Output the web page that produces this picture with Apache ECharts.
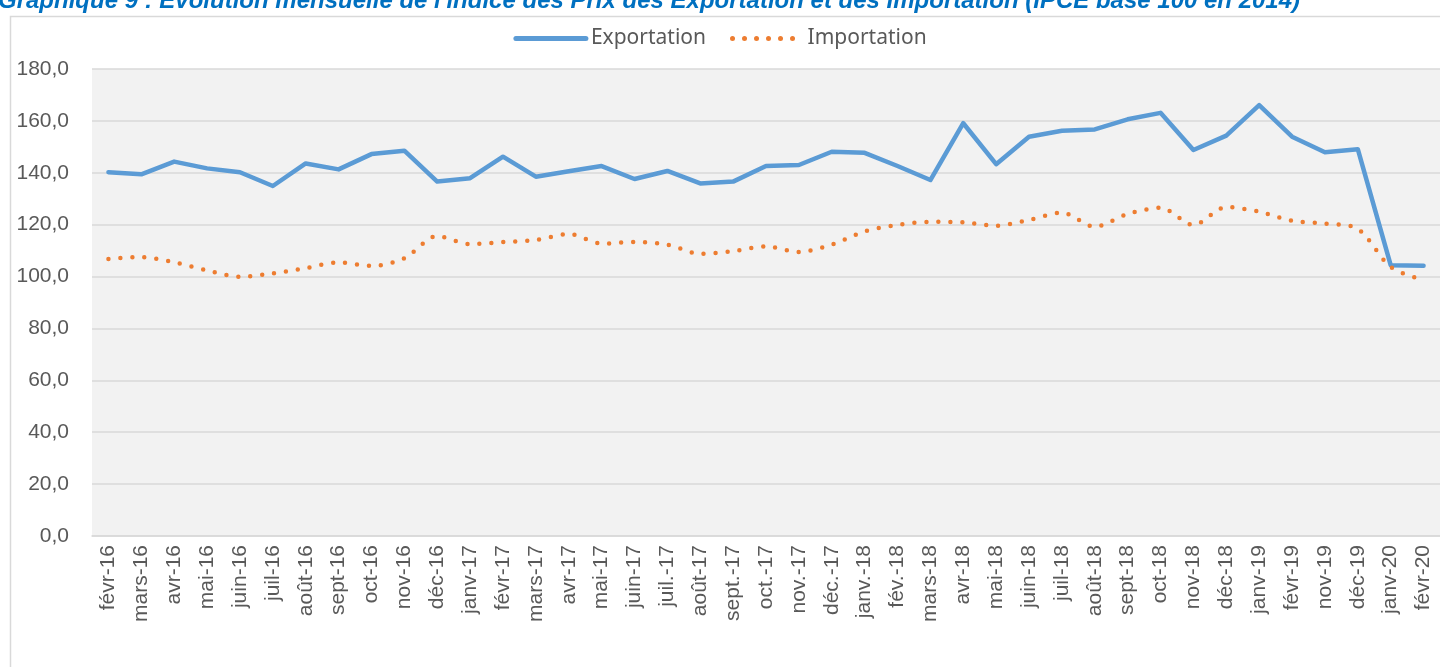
<!DOCTYPE html>
<html><head><meta charset="utf-8">
<script src="https://cdn.jsdelivr.net/npm/echarts@6/dist/echarts.min.js"></script>
<style>html,body{margin:0;padding:0;background:#fff;}#c{width:1440px;height:667px;}</style>
</head><body><div id="c"></div>
<script>
const titleText = "Graphique 9 : Evolution mensuelle de l'indice des Prix des Exportation et des Importation (IPCE base 100 en 2014)";
const categories = ["févr-16","mars-16","avr-16","mai-16","juin-16","juil-16","août-16","sept-16","oct-16","nov-16","déc-16","janv-17","févr-17","mars-17","avr-17","mai-17","juin-17","juil.-17","août-17","sept.-17","oct.-17","nov.-17","déc.-17","janv.-18","fév.-18","mars-18","avr-18","mai-18","juin-18","juil-18","août-18","sept-18","oct-18","nov-18","déc-18","janv-19","févr-19","nov-19","déc-19","janv-20","févr-20"];
const exportation = [140.2,139.4,144.3,141.7,140.2,134.9,143.6,141.3,147.2,148.5,136.6,137.9,146.2,138.5,140.6,142.6,137.6,140.7,135.9,136.6,142.6,143.0,148.1,147.7,142.6,137.2,159.1,143.3,153.9,156.2,156.7,160.6,163.1,148.8,154.3,166.1,153.9,147.9,149.1,104.4,104.2];
const importation = [106.8,107.5,105.5,102.4,99.9,101.2,103.2,105.5,104.1,107.0,115.6,112.5,113.3,114.1,116.4,112.7,113.3,112.3,108.8,109.8,111.6,109.5,112.3,117.4,119.9,121.1,120.9,119.6,121.8,124.6,119.2,124.1,126.5,119.9,126.8,125.0,121.5,120.4,118.4,103.7,98.7];
const yTicks = {min:0, max:180, interval:20};

const chart = echarts.init(document.getElementById('c'), null, {renderer:'canvas'});
chart.setOption({
  animation:false,
  backgroundColor:'#ffffff',
  graphic:[
    {type:'rect', z:-10, shape:{x:10.5,y:16.5,width:1500,height:700}, style:{fill:'none',stroke:'#d9d9d9',lineWidth:1.5}},
    {type:'text', x:-2, y:13, style:{text:titleText, font:'italic bold 24px "Liberation Sans", Arial, sans-serif', fill:'#0070C0', textVerticalAlign:'bottom'}}
  ],
  legend:{
    top:23, left:'center',
    itemWidth:70, itemHeight:14, itemGap:24,
    itemStyle:{opacity:0},
    textStyle:{fontFamily:'"Noto Sans", sans-serif', fontSize:21, color:'#595959'},
    data:[
      {name:'Exportation', lineStyle:{color:'#5B9BD5', width:5, type:'solid', cap:'round'}},
      {name:'Importation', lineStyle:{color:'#ED7D31', width:5, type:[0,12], cap:'round'}}
    ]
  },
  grid:{left:92, top:69, bottom:131, width:1356, show:true, backgroundColor:'#f2f2f2', borderWidth:0, containLabel:false},
  xAxis:{
    type:'category', data:categories, boundaryGap:true,
    axisLine:{show:true, lineStyle:{color:'#d9d9d9', width:1.5}},
    axisTick:{show:false},
    axisLabel:{interval:0, rotate:90, margin:9, color:'#595959', fontFamily:'"Liberation Sans", Arial, sans-serif', fontSize:21}
  },
  yAxis:{
    type:'value', min:yTicks.min, max:yTicks.max, interval:yTicks.interval,
    axisLine:{show:false}, axisTick:{show:false},
    splitLine:{lineStyle:{color:'#d9d9d9', width:1.5}},
    axisLabel:{margin:23, color:'#595959', fontFamily:'"Liberation Sans", Arial, sans-serif', fontSize:21,
      formatter:v=>v.toFixed(1).replace('.',',')}
  },
  series:[
    {name:'Exportation', type:'line', data:exportation, symbol:'none',
     lineStyle:{color:'#5B9BD5', width:4.5, cap:'round', join:'round'}, itemStyle:{color:'#5B9BD5'}},
    {name:'Importation', type:'line', data:importation, symbol:'none', smooth:0.3,
     lineStyle:{color:'#ED7D31', width:4.5, type:[0,12], cap:'round'}, itemStyle:{color:'#ED7D31'}}
  ]
});
</script></body></html>
